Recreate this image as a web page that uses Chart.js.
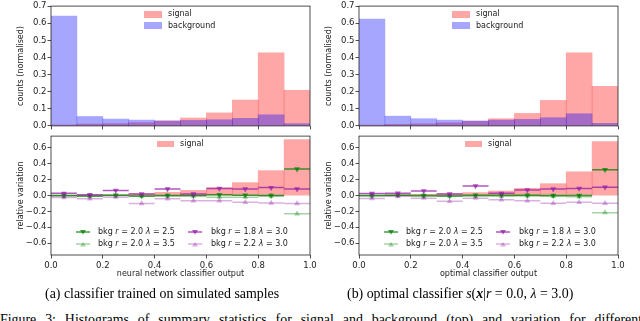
<!DOCTYPE html>
<html><head><meta charset="utf-8">
<script src="https://cdn.jsdelivr.net/npm/chart.js@4.4.0/dist/chart.umd.min.js"></script>
<style>
html,body{margin:0;padding:0;background:#fff;}
#wrap{position:relative;width:640px;height:321px;overflow:hidden;font-family:"DejaVu Sans",sans-serif;color:#222;}
canvas{position:absolute;}
.lg{position:absolute;font-size:8px;line-height:10px;white-space:nowrap;color:#222;}
.lg i{font-style:italic;}
.patch{position:absolute;}
.mk{position:absolute;}
.cap{position:absolute;font-family:"Liberation Serif","Times New Roman",serif;font-size:13.9px;line-height:14px;white-space:nowrap;color:#000;}
</style></head><body><div id="wrap">
<canvas id="aTop" width="320" height="132" style="left:0;top:0"></canvas>
<canvas id="bTop" width="320" height="132" style="left:308px;top:0"></canvas>
<canvas id="aBot" width="320" height="150" style="left:0;top:130px"></canvas>
<canvas id="bBot" width="320" height="150" style="left:308px;top:130px"></canvas>
<div class="cap" style="left:45px;top:287px">(a) classifier trained on simulated samples</div>
<div class="cap" style="left:347px;top:287px">(b) optimal classifier <i>s</i>(<b><i>x</i></b>|<i>r</i> = 0.0, <i>λ</i> = 3.0)</div>
<div class="cap" style="left:0;top:312.5px;width:642px;text-align:justify;text-align-last:justify;white-space:normal;">Figure 3: Histograms of summary statistics for signal and background (top) and variation for different</div>
</div>
<script>
// ---------- data ----------
const binCenters = [0.05,0.15,0.25,0.35,0.45,0.55,0.65,0.75,0.85,0.95];
const halfWidth = 0.05;
const xTicks = [0,0.2,0.4,0.6,0.8,1.0];
const topYTicks = [0,0.1,0.2,0.3,0.4,0.5,0.6,0.7];
const bottomYTicks = [-0.6,-0.4,-0.2,0,0.2,0.4,0.6];

// (a) neural network classifier
const signalA     = [0.006,0.011,0.013,0.019,0.029,0.046,0.076,0.151,0.427,0.208];
const backgroundA = [0.641,0.055,0.040,0.034,0.029,0.032,0.036,0.044,0.065,0.013];
const sigVarA     = [0.002,0.003,0.008,0.024,0.040,0.065,0.098,0.163,0.314,0.706];
const r20l25A     = [0.000,-0.005,0.005,-0.005,0.000,0.000,0.010,0.005,0.000,0.334];
const r20l35A     = [-0.005,-0.010,0.000,-0.010,-0.005,-0.005,-0.020,-0.020,-0.005,-0.230];
const r18l30A     = [0.028,0.010,0.065,0.020,0.082,0.020,0.090,0.082,0.100,0.082];
const r22l30A     = [-0.025,-0.040,-0.020,-0.100,-0.040,-0.065,-0.065,-0.086,-0.094,-0.100];

// (b) optimal classifier
const signalB     = [0.005,0.009,0.012,0.018,0.027,0.042,0.073,0.149,0.427,0.231];
const backgroundB = [0.624,0.057,0.042,0.034,0.029,0.034,0.038,0.048,0.071,0.015];
const sigVarB     = [0.005,0.010,0.015,0.024,0.037,0.057,0.090,0.150,0.300,0.680];
const r20l25B     = [0.000,0.005,0.000,-0.005,0.005,0.005,0.005,0.000,0.000,0.327];
const r20l35B     = [-0.005,0.000,-0.010,-0.005,-0.010,-0.010,-0.005,-0.010,-0.015,-0.216];
const r18l30B     = [0.025,0.030,0.057,0.020,0.122,0.028,0.070,0.082,0.090,0.106];
const r22l30B     = [-0.037,-0.010,-0.033,-0.073,-0.033,-0.053,-0.065,-0.098,-0.086,-0.098];

const seriesR      = ['2.0','2.0','1.8','2.2'];
const seriesLambda = ['2.5','3.5','3.0','3.0'];
const seriesColors = ['rgba(0,128,0,0.75)','rgba(0,128,0,0.35)','rgba(150,30,170,0.75)','rgba(150,30,170,0.35)'];
const seriesDown   = [true,false,true,false];

const SIG_COLOR = 'rgba(255,0,0,0.35)';
const BKG_COLOR = 'rgba(0,0,255,0.35)';
const AX = '#222';
const FONT = 'DejaVu Sans';

// ---------- helpers ----------
function fmt(v){ const s = Math.abs(v).toFixed(1); return (v < -1e-9 ? '\u2212' : '') + s; }
const frame = { id:'frame', afterDatasetsDraw(chart){
  const {ctx, chartArea:a} = chart; ctx.save(); ctx.strokeStyle = AX; ctx.lineWidth = 0.8;
  ctx.strokeRect(a.left, a.top, a.right-a.left, a.bottom-a.top); ctx.restore(); } };

const gridOpts = {display:true, drawOnChartArea:false, drawTicks:true, tickLength:3.5, color:AX, lineWidth:0.8, offset:false};

function xScale(showLabels, title){
  return { type:'linear', min:0, max:1, offset:false,
    afterBuildTicks: s => { s.ticks = xTicks.map(v => ({value:v})); },
    afterFit: s => { s.height = showLabels ? 25 : 6; },
    grid: gridOpts, border:{display:false},
    ticks:{display:showLabels, padding:2, font:{size:8.5, family:FONT}, color:AX, maxRotation:0, autoSkip:false, callback: v => fmt(v)},
    title:{display:!!title, text:title || '', font:{size:8, family:FONT}, color:AX, padding:{top:0, bottom:1.2}} };
}
function yScale(min, max, ticksArr, title){
  return { type:'linear', min, max,
    afterBuildTicks: s => { s.ticks = ticksArr.map(v => ({value:v})); },
    afterFit: s => { s.width = 51; },
    grid: gridOpts, border:{display:false},
    ticks:{padding:1, font:{size:8.5, family:FONT}, color:AX, autoSkip:false, callback: v => fmt(v)},
    title:{display:true, text:title, font:{size:8, family:FONT}, color:AX, padding:{top:16.2, bottom:0}} };
}
function barSet(label, values, color, order){
  return { type:'bar', label, data: binCenters.map((x,i) => ({x, y:values[i]})), backgroundColor:color,
    borderWidth:0, barPercentage:1, categoryPercentage:1, grouped:false, order };
}
function errSet(label, values, color, down, order){
  const data = [];
  binCenters.forEach((c,i) => {
    data.push({x:c-halfWidth, y:values[i]}, {x:c, y:values[i]}, {x:c+halfWidth, y:values[i]}, {x:c+halfWidth, y:null});
  });
  return { type:'line', label, data, borderColor:color, backgroundColor:color, borderWidth:1.5,
    spanGaps:false, fill:false, tension:0, pointStyle:'triangle', rotation: down ? 180 : 0,
    pointRadius: ctx => (ctx.dataIndex % 4 === 1 ? 3.4 : 0), pointBorderWidth:0, order };
}
const baseOpts = { responsive:false, animation:false, events:[], plugins:{legend:{display:false}, tooltip:{enabled:false}} };

function topChart(id, sig, bkg){
  new Chart(document.getElementById(id), { type:'bar',
    data:{ datasets:[ barSet('signal', sig, SIG_COLOR, 2), barSet('background', bkg, BKG_COLOR, 1) ] },
    options:Object.assign({}, baseOpts, { layout:{padding:{left:0,right:10,top:4,bottom:0}},
      scales:{ x:xScale(false), y:yScale(0, 0.7, topYTicks, 'counts (normalised)') } }),
    plugins:[frame] });
}
function botChart(id, sigVar, series, xTitle){
  const ds = [ barSet('signal', sigVar, SIG_COLOR, 10) ];
  series.forEach((vals,k) => ds.push(errSet('bkg r = '+seriesR[k]+' λ = '+seriesLambda[k], vals, seriesColors[k], seriesDown[k], 4-k)));
  new Chart(document.getElementById(id), { type:'bar', data:{ datasets: ds },
    options:Object.assign({}, baseOpts, { layout:{padding:{left:0,right:10,top:3,bottom:0}},
      scales:{ x:xScale(true, xTitle), y:yScale(-0.75, 0.75, bottomYTicks, 'relative variation') } }),
    plugins:[frame] });
}

topChart('aTop', signalA, backgroundA);
topChart('bTop', signalB, backgroundB);
botChart('aBot', sigVarA, [r20l25A, r20l35A, r18l30A, r22l30A], 'neural network classifier output');
botChart('bBot', sigVarB, [r20l25B, r20l35B, r18l30B, r22l30B], 'optimal classifier output');

// ---------- legends (HTML text) ----------
const wrap = document.getElementById('wrap');
function add(html){ wrap.insertAdjacentHTML('beforeend', html); }
function legends(plotLeft){
  add(`<div class="patch" style="left:${plotLeft+93}px;top:11px;width:18px;height:6.5px;background:${SIG_COLOR}"></div>`);
  add(`<div class="lg" style="left:${plotLeft+117}px;top:9px">signal</div>`);
  add(`<div class="patch" style="left:${plotLeft+93}px;top:22px;width:18px;height:6.5px;background:${BKG_COLOR}"></div>`);
  add(`<div class="lg" style="left:${plotLeft+117}px;top:20.5px">background</div>`);
  add(`<div class="patch" style="left:${plotLeft+106}px;top:141px;width:17px;height:6px;background:${SIG_COLOR}"></div>`);
  add(`<div class="lg" style="left:${plotLeft+129}px;top:139px">signal</div>`);
  const rows = [232, 244];
  const cols = [[32,47],[144,160]];
  for (let k=0;k<4;k++){
    const col = cols[Math.floor(k/2)], cy = rows[k%2];
    const mx = plotLeft + col[0];
    const tri = seriesDown[k] ? '4,2 10,2 7,6.5' : '4,6.5 10,6.5 7,2';
    add(`<svg class="mk" style="left:${mx-7}px;top:${cy-4}px" width="14" height="8"><line x1="0" y1="4" x2="14" y2="4" stroke="${seriesColors[k]}" stroke-width="1.5"/><polygon points="${tri}" fill="${seriesColors[k]}"/></svg>`);
    add(`<div class="lg" style="left:${plotLeft+col[1]}px;top:${cy-5}px">bkg <i>r</i> = ${seriesR[k]} <i>λ</i> = ${seriesLambda[k]}</div>`);
  }
}
legends(51);
legends(359);
</script>
</body></html>
